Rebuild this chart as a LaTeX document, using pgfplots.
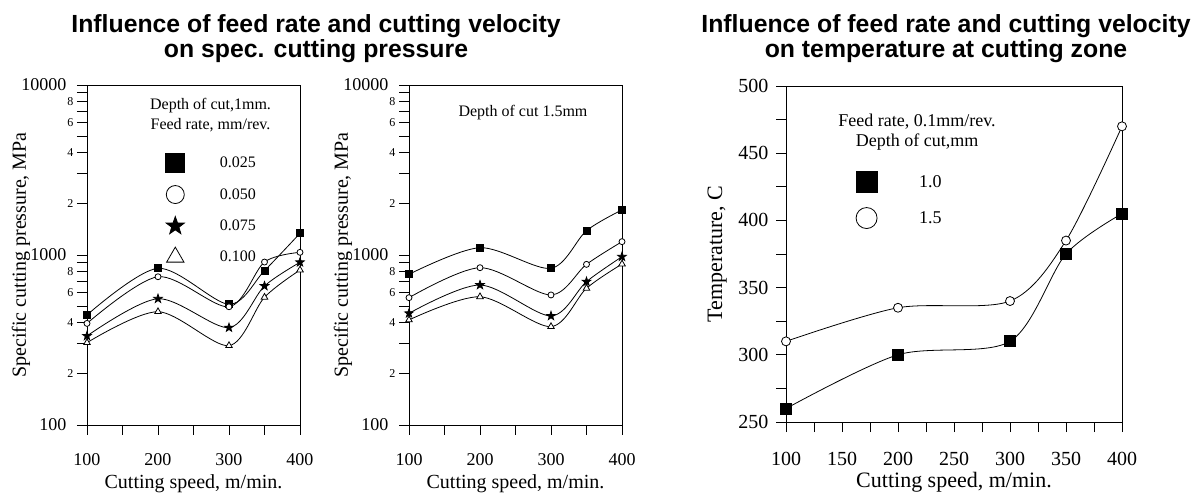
\documentclass[border=0pt]{standalone}
\usepackage{fontspec}
\setmainfont{Liberation Serif}
\newfontfamily\titlefont{Liberation Sans}
\usepackage{pgfplots}
\pgfplotsset{compat=1.18}

% filled five-pointed star
\pgfdeclareplotmark{fstar}{%
  \pgfpathmoveto{\pgfpointpolar{90}{\pgfplotmarksize}}%
  \pgfpathlineto{\pgfpointpolar{126}{0.4\pgfplotmarksize}}%
  \pgfpathlineto{\pgfpointpolar{162}{\pgfplotmarksize}}%
  \pgfpathlineto{\pgfpointpolar{198}{0.4\pgfplotmarksize}}%
  \pgfpathlineto{\pgfpointpolar{234}{\pgfplotmarksize}}%
  \pgfpathlineto{\pgfpointpolar{270}{0.4\pgfplotmarksize}}%
  \pgfpathlineto{\pgfpointpolar{306}{\pgfplotmarksize}}%
  \pgfpathlineto{\pgfpointpolar{342}{0.4\pgfplotmarksize}}%
  \pgfpathlineto{\pgfpointpolar{18}{\pgfplotmarksize}}%
  \pgfpathlineto{\pgfpointpolar{54}{0.4\pgfplotmarksize}}%
  \pgfpathclose\pgfusepathqfillstroke}

% small mantissa labels of the log axis
\newcommand\mn[1]{{\fontsize{12}{12}\selectfont #1\kern-7pt}}

\pgfplotsset{
  every axis/.append style={
    scale only axis,
    axis line style={line width=0.8pt},
    tick style={line width=0.8pt, black},
    tick align=outside,
    major tick length=10pt,
    tick pos=left,
  },
  every axis plot/.append style={black, line width=0.8pt, smooth},
  bigmark/.style={legend image code/.code={\draw[##1, only marks, mark size=#1] plot coordinates {(0pt,0pt)};}},
}

\begin{document}
\begin{tikzpicture}
\useasboundingbox (0pt,0pt) rectangle (1200pt,493pt);

\node[anchor=base, font=\titlefont\bfseries\fontsize{24.8}{24}\selectfont] at (316pt,460pt) {Influence of feed rate and cutting velocity};
\node[anchor=base, font=\titlefont\bfseries\fontsize{24.8}{24}\selectfont] at (316pt,435pt) {on spec. cutting pressure};
\node[anchor=base, font=\titlefont\bfseries\fontsize{24.8}{24}\selectfont] at (946pt,460pt) {Influence of feed rate and cutting velocity};
\node[anchor=base, font=\titlefont\bfseries\fontsize{24.8}{24}\selectfont] at (946pt,435pt) {on temperature at cutting zone};

% depth of cut 1 mm
\begin{axis}[at={(87pt,68pt)}, anchor=south west, width=213pt, height=340pt,
  ymode=log, xmin=100, xmax=400, ymin=100, ymax=10000,
  yminorticks=false,
  xtick={100,150,...,400}, xticklabels={100,,200,,300,,400},
  ytick={100,200,300,400,500,600,700,800,900,1000,2000,3000,4000,5000,6000,7000,8000,9000,10000},
  yticklabels={100,\mn{2},,\mn{4},,\mn{6},,\mn{8},,1000,\mn{2},,\mn{4},,\mn{6},,\mn{8},,10000},
  tick label style={font=\fontsize{18}{18}\selectfont},
  xticklabel style={yshift=-15pt},
  yticklabel style={xshift=-7pt},
  xlabel={Cutting speed, m/min.},
  ylabel={Specific cutting pressure, MPa},
  xlabel style={at={(axis description cs:0.5,-0.172)}, anchor=center, font=\fontsize{20}{20}\selectfont},
  ylabel style={at={(axis description cs:-0.31,0.5)}, anchor=center, font=\fontsize{20}{20}\selectfont},
  legend style={at={(axis description cs:0.369,0.799)}, anchor=north west,
    draw=none, fill=none, inner sep=0pt, row sep=13pt, column sep=33pt,
    font=\fontsize{16}{16}\selectfont},
  legend cell align=left]
\addplot[mark=square*, mark size=3.5pt, mark options={fill=black}, bigmark=9.5pt]
  coordinates {(100,444) (200,835) (300,513) (350,809) (400,1342)};
\addlegendentry{0.025}
\addplot[mark=*, mark size=3pt, mark options={fill=white}, bigmark=9pt]
  coordinates {(100,396) (200,745) (300,496) (350,909) (400,1037)};
\addlegendentry{0.050}
\addplot[mark=fstar, mark size=4.5pt, mark options={fill=black}, bigmark=9.5pt]
  coordinates {(100,334) (200,553) (300,374) (350,657) (400,906)};
\addlegendentry{0.075}
\addplot[mark=triangle*, mark size=3.8pt, mark options={fill=white}, bigmark=10pt]
  coordinates {(100,305) (200,464) (300,293) (350,564) (400,816)};
\addlegendentry{0.100}
\node[align=center, font=\fontsize{16}{20}\selectfont] at (axis description cs:0.58,0.91) {Depth of cut,1mm.\\Feed rate, mm/rev.};
\end{axis}

% depth of cut 1.5 mm
\begin{axis}[at={(409pt,68pt)}, anchor=south west, width=213pt, height=340pt,
  ymode=log, xmin=100, xmax=400, ymin=100, ymax=10000,
  yminorticks=false,
  xtick={100,150,...,400}, xticklabels={100,,200,,300,,400},
  ytick={100,200,300,400,500,600,700,800,900,1000,2000,3000,4000,5000,6000,7000,8000,9000,10000},
  yticklabels={100,\mn{2},,\mn{4},,\mn{6},,\mn{8},,1000,\mn{2},,\mn{4},,\mn{6},,\mn{8},,10000},
  tick label style={font=\fontsize{18}{18}\selectfont},
  xticklabel style={yshift=-15pt},
  yticklabel style={xshift=-7pt},
  xlabel={Cutting speed, m/min.},
  ylabel={Specific cutting pressure, MPa},
  xlabel style={at={(axis description cs:0.5,-0.172)}, anchor=center, font=\fontsize{20}{20}\selectfont},
  ylabel style={at={(axis description cs:-0.31,0.5)}, anchor=center, font=\fontsize{20}{20}\selectfont}]
\addplot[mark=square*, mark size=3.5pt, mark options={fill=black}] coordinates {(100,770) (200,1104) (300,835) (350,1390) (400,1842)};
\addplot[mark=*, mark size=3pt, mark options={fill=white}] coordinates {(100,561) (200,842) (300,582) (350,881) (400,1198)};
\addplot[mark=fstar, mark size=4.5pt, mark options={fill=black}] coordinates {(100,454) (200,666) (300,438) (350,697) (400,977)};
\addplot[mark=triangle*, mark size=3.8pt, mark options={fill=white}] coordinates {(100,415) (200,568) (300,379) (350,637) (400,885)};
\node[font=\fontsize{16}{16}\selectfont] at (axis description cs:0.535,0.918) {Depth of cut 1.5mm};
\end{axis}

% temperature
\begin{axis}[at={(786pt,71pt)}, anchor=south west, width=336pt, height=336pt,
  xmin=100, xmax=400, ymin=250, ymax=500,
  xtick={100,125,...,400}, xticklabels={100,,150,,200,,250,,300,,350,,400},
  ytick={250,275,...,500}, yticklabels={250,,300,,350,,400,,450,,500},
  tick label style={font=\fontsize{20}{20}\selectfont},
  xticklabel style={yshift=-17pt},
  yticklabel style={xshift=-4pt},
  xlabel={Cutting speed, m/min.}, ylabel={Temperature, C},
  xlabel style={at={(axis description cs:0.5,-0.179)}, anchor=center, font=\fontsize{22}{22}\selectfont},
  ylabel style={at={(axis description cs:-0.205,0.5)}, anchor=center, font=\fontsize{22}{22}\selectfont},
  legend style={at={(axis description cs:0.208,0.746)}, anchor=north west,
    draw=none, fill=none, inner sep=0pt, row sep=15pt, column sep=40pt,
    font=\fontsize{18}{18}\selectfont},
  legend cell align=left]
\addplot[mark=square*, mark size=5.5pt, mark options={fill=black}, bigmark=10.5pt]
  coordinates {(100,260) (200,300) (300,310) (350,375) (400,405)};
\addlegendentry{1.0}
\addplot[mark=*, mark size=4.5pt, mark options={fill=white}, bigmark=10.5pt]
  coordinates {(100,310) (200,335) (300,340) (350,385) (400,470)};
\addlegendentry{1.5}
\node[align=center, font=\fontsize{18}{20}\selectfont] at (axis description cs:0.39,0.863) {Feed rate, 0.1mm/rev.\\Depth of cut,mm};
\end{axis}
\end{tikzpicture}
\end{document}
